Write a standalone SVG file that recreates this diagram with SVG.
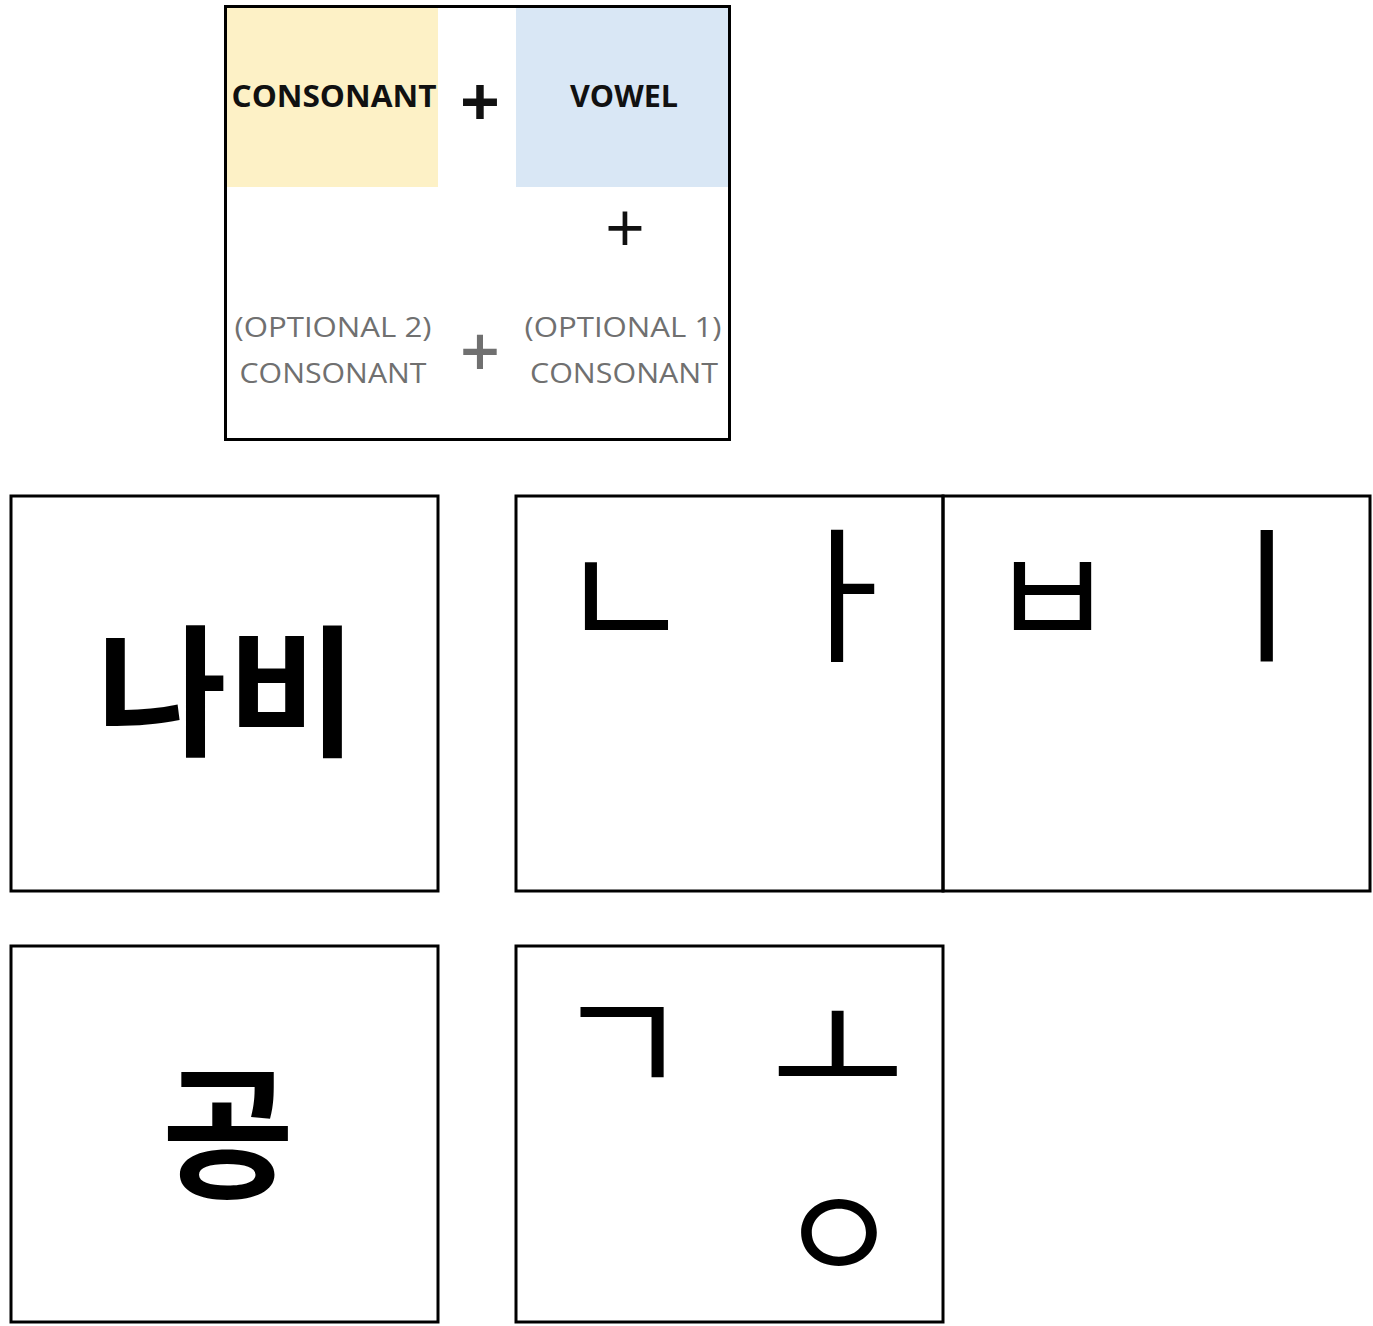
<svg xmlns="http://www.w3.org/2000/svg" width="1373" height="1326" viewBox="0 0 1373 1326">
<style>
.box{fill:none;stroke:#000;stroke-width:3}
.lbl{font-family:"Open Sans","Liberation Sans",sans-serif;text-anchor:middle}
.b{font-weight:700;fill:#111}
.g{fill:#707070}
.kr{font-family:"Noto Sans CJK KR",sans-serif;text-anchor:middle;fill:#000}
.big{font-weight:700}
.jamo{font-weight:400}
</style>
<rect width="1373" height="1326" fill="#fff"/>
<g id="legend">
<rect x="227" y="8" width="211" height="179" fill="#fdf1c6"/>
<rect x="516" y="8" width="212" height="179" fill="#d9e7f5"/>
<rect class="box" x="225.5" y="6.5" width="504" height="433"/>
<text class="lbl b" x="334" y="107" font-size="30" textLength="205" lengthAdjust="spacingAndGlyphs">CONSONANT</text>
<text class="lbl b" x="480" y="127" font-size="70">+</text>
<text class="lbl b" x="624" y="107" font-size="30" textLength="108" lengthAdjust="spacingAndGlyphs">VOWEL</text>
<text class="lbl" x="625" y="253" font-size="70" fill="#111">+</text>
<text class="lbl g" x="333" y="337" font-size="28" textLength="197" lengthAdjust="spacingAndGlyphs">(OPTIONAL 2)</text>
<text class="lbl g" x="333" y="383" font-size="28" textLength="187" lengthAdjust="spacingAndGlyphs">CONSONANT</text>
<text class="lbl g" x="480" y="377" font-size="70" font-weight="600">+</text>
<text class="lbl g" x="623" y="337" font-size="28" textLength="197" lengthAdjust="spacingAndGlyphs">(OPTIONAL 1)</text>
<text class="lbl g" x="624" y="383" font-size="28" textLength="188" lengthAdjust="spacingAndGlyphs">CONSONANT</text>
</g>
<g id="nabi">
<rect class="box" x="11" y="496" width="427" height="395"/>
<text class="kr big" x="227" y="745" font-size="142">나비</text>
</g>
<g id="na">
<rect class="box" x="516" y="496" width="427" height="395"/>
<text class="kr jamo" x="625" y="651" font-size="145">ㄴ</text>
<text class="kr jamo" x="841" y="650" font-size="148">ㅏ</text>
</g>
<g id="bi">
<rect class="box" x="943" y="496" width="427" height="395"/>
<text class="kr jamo" x="1052" y="648" font-size="138">ㅂ</text>
<text class="kr jamo" x="1266" y="650" font-size="148">ㅣ</text>
</g>
<g id="gong">
<rect class="box" x="11" y="946" width="427" height="376"/>
<text class="kr big" x="228" y="1187" font-size="144">공</text>
</g>
<g id="gong-parts">
<rect class="box" x="516" y="946" width="427" height="376"/>
<text class="kr jamo" x="622" y="1097" font-size="148">ㄱ</text>
<text class="kr jamo" x="838" y="1104" font-size="145">ㅗ</text>
<text class="kr jamo" x="839" y="1283" font-size="134">ㅇ</text>
</g>
<g id="connectors"></g>
</svg>
